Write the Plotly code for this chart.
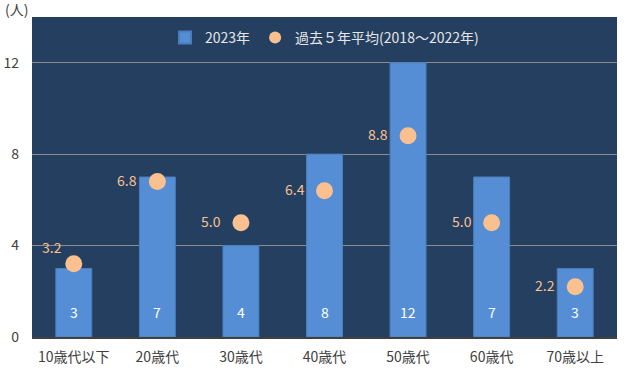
import plotly.graph_objects as go

categories = ["10歳代以下", "20歳代", "30歳代", "40歳代", "50歳代", "60歳代", "70歳以上"]
values_2023 = [3, 7, 4, 8, 12, 7, 3]
avg_5yr = [3.2, 6.8, 5.0, 6.4, 8.8, 5.0, 2.2]
y_ticks = [0, 4, 8, 12]

FONT = "Noto Sans CJK JP"

fig = go.Figure()
fig.add_trace(go.Bar(
    x=categories, y=values_2023, name="2023年",
    marker=dict(color="#558ED5", line=dict(width=1, color="#4A7EBB")),
    width=0.43,
))
fig.add_trace(go.Scatter(
    x=categories, y=avg_5yr, name="過去５年平均(2018～2022年)",
    mode="markers",
    marker=dict(color="#FAC090", size=17),
))
for i, (c, v) in enumerate(zip(categories, avg_5yr)):
    # first label sits above-left of its dot in the reference
    xs, ys = (-10, 17) if i == 0 else (-18, 2)
    fig.add_annotation(x=c, y=v, text=f"{v:.1f}", showarrow=False, xanchor="right",
                       yanchor="middle", xshift=xs, yshift=ys,
                       font=dict(color="#FAC090", size=14, family=FONT))
for c, v in zip(categories, values_2023):
    fig.add_annotation(x=c, y=0, text=str(v), showarrow=False, yanchor="middle",
                       yshift=25, font=dict(color="white", size=14, family=FONT))

fig.update_layout(
    width=624, height=371,
    margin=dict(l=32, r=7, t=17, b=34),
    paper_bgcolor="white", plot_bgcolor="#243F60",
    font=dict(family=FONT, size=14, color="#595959"),
    showlegend=True,
    legend=dict(orientation="h", x=0.5, xanchor="center", y=0.985, yanchor="top",
                font=dict(color="#E6E6E6", size=14, family=FONT),
                bgcolor="rgba(0,0,0,0)", itemwidth=30, itemsizing="constant"),
)
fig.update_xaxes(showgrid=False, showline=True, linecolor="#404040", linewidth=2,
                 tickfont=dict(color="#404040", size=14), ticks="", ticklabelstandoff=6,
                 automargin=False)
fig.update_yaxes(range=[0, 14], tickvals=y_ticks, showgrid=True, gridcolor="#8C8C8C",
                 gridwidth=1, zeroline=False, showline=False, ticklabelstandoff=12,
                 automargin=False, tickfont=dict(color="#404040", size=14))
fig.add_annotation(text="(人)", xref="paper", yref="paper", x=-0.05, y=1.0,
                   xanchor="left", yanchor="bottom", showarrow=False, yshift=-4,
                   font=dict(color="#404040", size=14, family=FONT))

fig.write_html("out.html", config={"displayModeBar": False},
               post_script="document.body.style.margin='0';")
